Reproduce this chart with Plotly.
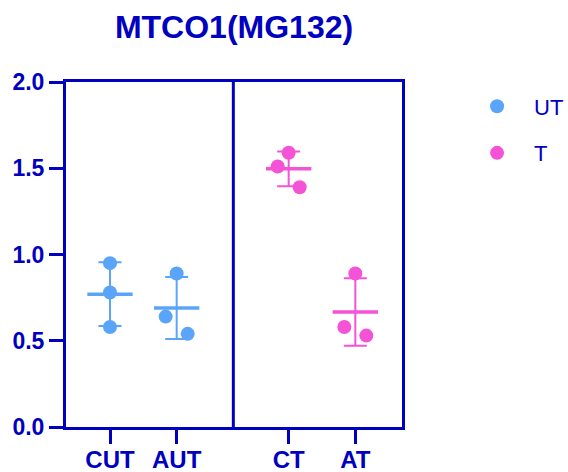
import numpy as np
import plotly.graph_objects as go

# Replicate measurements per condition
groups = ["CUT", "AUT", "CT", "AT"]
treatment = ["UT", "UT", "T", "T"]
cut_vals = [0.95, 0.78, 0.58]
aut_vals = [0.89, 0.64, 0.54]
ct_vals = [1.59, 1.51, 1.39]
at_vals = [0.89, 0.58, 0.53]
values = [cut_vals, aut_vals, ct_vals, at_vals]

y_ticks = [0.0, 0.5, 1.0, 1.5, 2.0]
y_tick_text = ["0.0", "0.5", "1.0", "1.5", "2.0"]

# Layout of the category slots along the x axis
x_pos = [0.66, 1.66, 3.34, 4.34]
divider_x = 2.51
x_range = [0, 5.04]
jitter = [[0, 0, 0], [0, -0.165, 0.165], [0, -0.165, 0.165], [0, -0.165, 0.165]]

colors = {"UT": "#5aa5fa", "T": "#f553d6"}
ink = "#0000c0"
font_family = "Liberation Sans, Arial, sans-serif"

fig = go.Figure()

# Mean line and SD error bars for every group
for g, tr, vals, xp in zip(groups, treatment, values, x_pos):
    v = np.array(vals)
    mean = v.mean()
    sd = v.std(ddof=1)
    col = colors[tr]
    fig.add_trace(go.Scatter(
        x=[xp], y=[mean], mode="markers",
        marker=dict(size=1, color="rgba(0,0,0,0)"),
        error_y=dict(type="data", array=[sd], visible=True,
                     color=col, thickness=2, width=11.5),
        showlegend=False, hoverinfo="skip"))
    fig.add_trace(go.Scatter(
        x=[xp - 0.34, xp + 0.34], y=[mean, mean], mode="lines",
        line=dict(color=col, width=3.5),
        showlegend=False, hoverinfo="skip"))

# Individual replicate points, one legend entry per treatment
for tr in ["UT", "T"]:
    xs, ys = [], []
    for tr_g, vals, xp, jit in zip(treatment, values, x_pos, jitter):
        if tr_g != tr:
            continue
        xs += [xp + j for j in jit]
        ys += list(vals)
    fig.add_trace(go.Scatter(
        x=xs, y=ys, mode="markers", name=tr, legendgroup=tr,
        marker=dict(size=14, color=colors[tr], line=dict(width=0))))

# Vertical divider between untreated and treated groups
fig.add_shape(type="line", x0=divider_x, x1=divider_x, y0=0, y1=2,
              xref="x", yref="y", line=dict(color=ink, width=3))

fig.update_layout(
    width=568, height=472,
    margin=dict(l=66, r=166, t=82, b=45, autoexpand=False),
    paper_bgcolor="white", plot_bgcolor="white",
    title=dict(text="<b>MTCO1(MG132)</b>", x=0.5, xref="paper",
               xanchor="center", y=0.943, yref="container", yanchor="middle",
               font=dict(family=font_family, size=32, color=ink)),
    font=dict(family=font_family, color=ink),
    legend=dict(x=0.81, xref="container", xanchor="left",
                y=0.819, yref="container", yanchor="top",
                itemwidth=64, tracegroupgap=15, traceorder="grouped",
                font=dict(size=22, color=ink), bgcolor="rgba(0,0,0,0)"),
    xaxis=dict(range=x_range, tickmode="array", tickvals=x_pos,
               ticktext=[f"<b>{g}</b>" for g in groups],
               showline=True, linecolor=ink, linewidth=3, mirror=True,
               ticks="outside", ticklen=14, tickwidth=3, tickcolor=ink,
               ticklabelstandoff=-5,
               showgrid=False, zeroline=False, automargin=False,
               tickfont=dict(size=24, color=ink, family=font_family)),
    yaxis=dict(range=[0, 2], tickmode="array", tickvals=y_ticks,
               ticktext=[f"<b>{t}</b>" for t in y_tick_text],
               showline=True, linecolor=ink, linewidth=3, mirror=True,
               ticks="outside", ticklen=14, tickwidth=3, tickcolor=ink,
               showgrid=False, zeroline=False, automargin=False,
               tickfont=dict(size=23, color=ink, family=font_family)),
)

fig.write_html("out.html")
